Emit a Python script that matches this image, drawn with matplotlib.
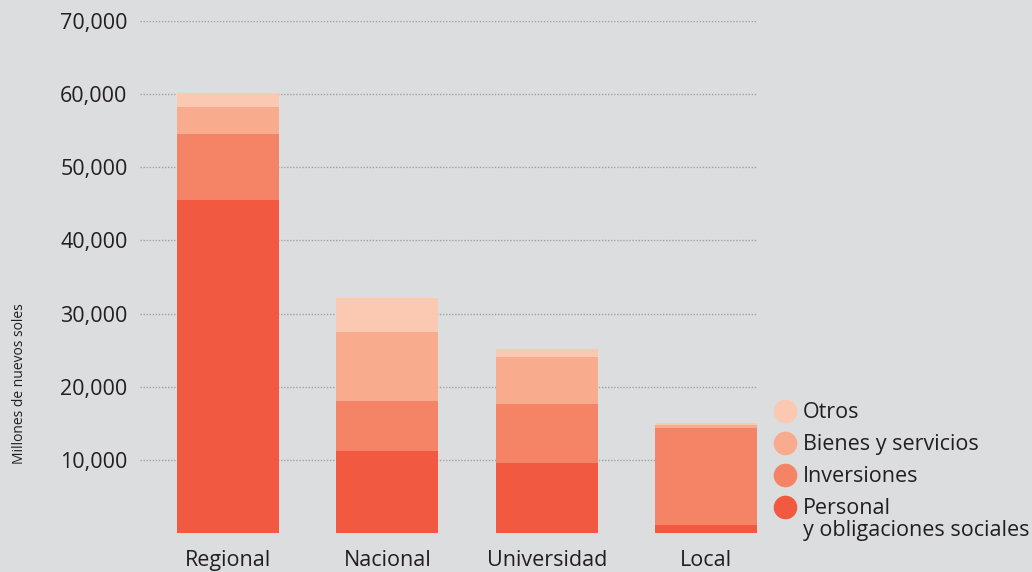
import matplotlib.pyplot as plt
import numpy as np

plt.rcParams['font.family'] = ['Open Sans', 'DejaVu Sans']

categories = ['Regional', 'Nacional', 'Universidad', 'Local']
personal = [45500, 11200, 9600, 1100]
inversiones = [9000, 6800, 8000, 13200]
bienes = [3800, 9500, 6400, 450]
otros = [1800, 4600, 1100, 300]

series = [personal, inversiones, bienes, otros]
names = ['Personal\ny obligaciones sociales', 'Inversiones', 'Bienes y servicios', 'Otros']
colors = ['#F15A40', '#F58466', '#F9AB8E', '#FBC9B2']
yticks = [10000, 20000, 30000, 40000, 50000, 60000, 70000]

bg = '#DCDDDF'
fig = plt.figure(figsize=(10.32, 5.72), dpi=100, facecolor=bg)
ax = fig.add_axes([140/1032, 39/572, 617/1032, 512/572], facecolor=bg)

x = np.arange(len(categories))
bottom = np.zeros(len(categories))
for vals, col in zip(series, colors):
    ax.bar(x, vals, width=0.64, bottom=bottom, color=col, zorder=3)
    bottom += np.array(vals)

ax.set_xlim(-0.553, 3.32)
ax.set_ylim(0, 70000)
ax.set_yticks(yticks)
ax.set_yticklabels([f'{v:,}' for v in yticks], fontsize=15.5, color='#231F20')
ax.set_xticks(x)
ax.set_xticklabels(categories, fontsize=15.5, color='#231F20')
ax.tick_params(axis='both', length=0)
ax.tick_params(axis='y', pad=9)
ax.tick_params(axis='x', pad=12)
ax.yaxis.grid(True, linestyle=(0, (1, 1.2)), color='#A0A0A0', linewidth=1.0, zorder=0)
for s in ax.spines.values():
    s.set_visible(False)

fig.text(20/1032, 1 - 384/572, 'Millones de nuevos soles', rotation=90, ha='center', va='center',
         fontsize=10, color='#231F20')

# legend drawn by hand so the marker sits on the first line of each label
leg_y = [507, 475, 443, 411]
for name, col, yy in zip(names, colors, leg_y):
    fig.add_artist(plt.Line2D([785/1032], [1 - yy/572], marker='o', markersize=16,
                              color=col, linestyle='none', transform=fig.transFigure))
    fig.text(803/1032, 1 - (yy - 9)/572, name, ha='left', va='top', fontsize=15.5,
             color='#231F20', linespacing=1.05)

fig.savefig('out.png', dpi=100, facecolor=bg)
